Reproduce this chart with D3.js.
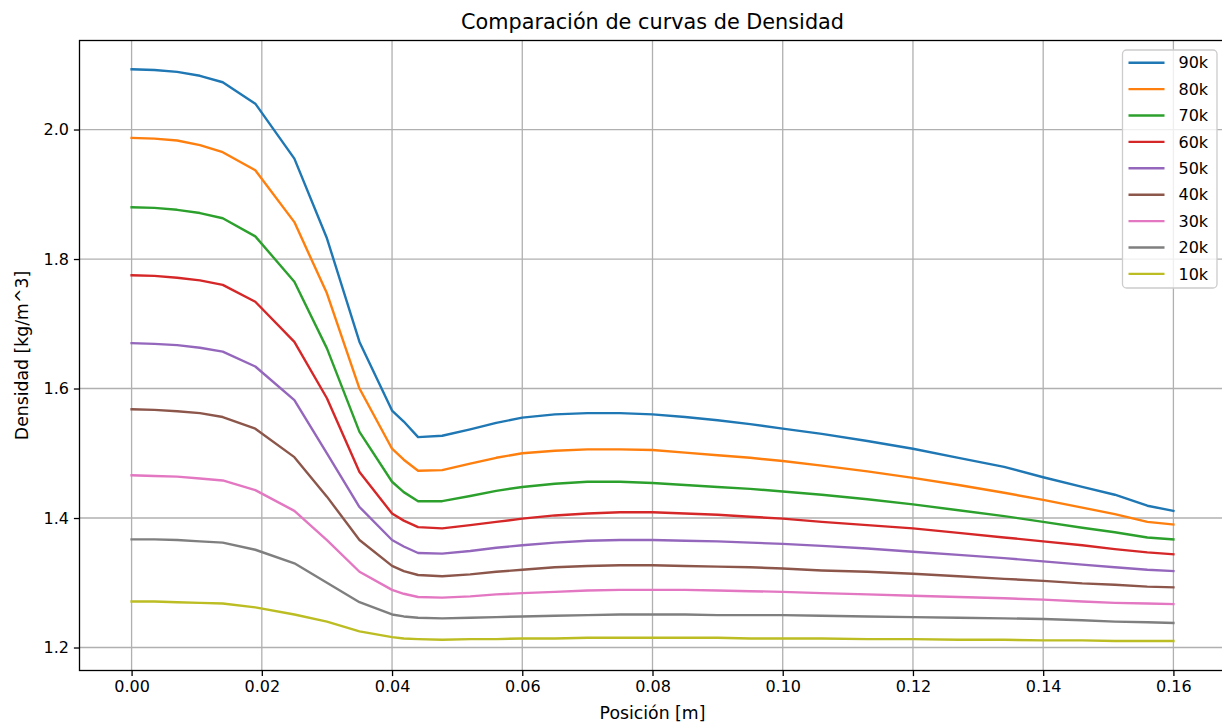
<!DOCTYPE html>
<html>
<head>
<meta charset="utf-8">
<script src="https://cdn.jsdelivr.net/npm/d3@7"></script>
<style>
  body { margin: 0; background: #fff; }
  text { font-family: "DejaVu Sans", sans-serif; fill: #000; }
</style>
</head>
<body>
<div id="svg-container"></div>
<script>
// data
var posicion = [0, 0.0035, 0.007, 0.0105, 0.014, 0.019, 0.025, 0.030, 0.035, 0.040, 0.0418, 0.044, 0.0477,
  0.052, 0.056, 0.060, 0.065, 0.070, 0.075, 0.080, 0.085, 0.090, 0.095, 0.100, 0.106, 0.113, 0.120,
  0.127, 0.134, 0.140, 0.146, 0.151, 0.156, 0.160];

var labels = ["90k", "80k", "70k", "60k", "50k", "40k", "30k", "20k", "10k"];

var d90 = [2.093, 2.092, 2.089, 2.083, 2.073, 2.040, 1.955, 1.832, 1.672, 1.566, 1.549, 1.525, 1.527,
  1.537, 1.547, 1.555, 1.560, 1.562, 1.562, 1.560, 1.556, 1.551, 1.545, 1.538, 1.530, 1.519, 1.507,
  1.493, 1.479, 1.463, 1.448, 1.436, 1.419, 1.411];
var d80 = [1.987, 1.986, 1.983, 1.976, 1.965, 1.937, 1.857, 1.747, 1.600, 1.507, 1.490, 1.473, 1.474,
  1.484, 1.493, 1.500, 1.504, 1.506, 1.506, 1.505, 1.501, 1.497, 1.493, 1.488, 1.481, 1.472, 1.462,
  1.451, 1.439, 1.428, 1.416, 1.406, 1.394, 1.390];
var d70 = [1.880, 1.879, 1.876, 1.871, 1.863, 1.835, 1.765, 1.662, 1.533, 1.456, 1.440, 1.426, 1.426,
  1.434, 1.442, 1.448, 1.453, 1.456, 1.456, 1.454, 1.451, 1.448, 1.445, 1.441, 1.436, 1.429, 1.421,
  1.412, 1.403, 1.394, 1.385, 1.378, 1.370, 1.367];
var d60 = [1.775, 1.774, 1.771, 1.767, 1.760, 1.734, 1.672, 1.585, 1.471, 1.407, 1.396, 1.386, 1.384,
  1.389, 1.394, 1.399, 1.404, 1.407, 1.409, 1.409, 1.407, 1.405, 1.402, 1.399, 1.394, 1.389, 1.384,
  1.377, 1.370, 1.364, 1.358, 1.352, 1.347, 1.344];
var d50 = [1.670, 1.669, 1.667, 1.663, 1.657, 1.634, 1.582, 1.500, 1.417, 1.366, 1.356, 1.346, 1.345,
  1.349, 1.354, 1.358, 1.362, 1.365, 1.366, 1.366, 1.365, 1.364, 1.362, 1.360, 1.357, 1.353, 1.348,
  1.343, 1.338, 1.333, 1.328, 1.324, 1.320, 1.318];
var d40 = [1.568, 1.567, 1.565, 1.562, 1.556, 1.538, 1.494, 1.433, 1.366, 1.326, 1.318, 1.312, 1.310,
  1.313, 1.317, 1.320, 1.324, 1.326, 1.327, 1.327, 1.326, 1.325, 1.324, 1.322, 1.319, 1.317, 1.314,
  1.310, 1.306, 1.303, 1.299, 1.297, 1.294, 1.293];
var d30 = [1.466, 1.465, 1.464, 1.461, 1.458, 1.443, 1.411, 1.366, 1.317, 1.289, 1.283, 1.278, 1.277,
  1.279, 1.282, 1.284, 1.286, 1.288, 1.289, 1.289, 1.289, 1.288, 1.287, 1.286, 1.284, 1.282, 1.280,
  1.278, 1.276, 1.274, 1.271, 1.269, 1.268, 1.267];
var d20 = [1.367, 1.367, 1.366, 1.364, 1.362, 1.351, 1.330, 1.300, 1.270, 1.251, 1.248, 1.246, 1.245,
  1.246, 1.247, 1.248, 1.249, 1.250, 1.251, 1.251, 1.251, 1.250, 1.250, 1.250, 1.249, 1.248, 1.247,
  1.246, 1.245, 1.244, 1.242, 1.240, 1.239, 1.238];
var d10 = [1.271, 1.271, 1.270, 1.269, 1.268, 1.262, 1.251, 1.240, 1.225, 1.216, 1.214, 1.213, 1.212,
  1.213, 1.213, 1.214, 1.214, 1.215, 1.215, 1.215, 1.215, 1.215, 1.214, 1.214, 1.214, 1.213, 1.213,
  1.212, 1.212, 1.211, 1.211, 1.210, 1.210, 1.210];

var xTicks = [0, 0.02, 0.04, 0.06, 0.08, 0.10, 0.12, 0.14, 0.16];
var yTicks = [1.2, 1.4, 1.6, 1.8, 2.0];

var series = [d90, d80, d70, d60, d50, d40, d30, d20, d10];
var colors = ["#1f77b4", "#ff7f0e", "#2ca02c", "#d62728", "#9467bd", "#8c564b", "#e377c2", "#7f7f7f", "#bcbd22"];

// layout
const W = 1222, H = 723;
const plotLeft = 79.5, plotRight = 1225.5, plotTop = 40.5, plotBottom = 670.5;

var svg = d3.select("#svg-container")
  .append("svg")
  .attr("width", W)
  .attr("height", H);

var x = d3.scaleLinear().domain([-0.008, 0.168]).range([plotLeft, plotRight]);
var y = d3.scaleLinear().domain([1.1645, 2.1375]).range([plotBottom, plotTop]);

// grid
svg.append("g").selectAll("line").data(xTicks).join("line")
  .attr("x1", d => x(d)).attr("x2", d => x(d))
  .attr("y1", plotTop).attr("y2", plotBottom)
  .attr("stroke", "#b0b0b0").attr("stroke-width", 1.3);
svg.append("g").selectAll("line").data(yTicks).join("line")
  .attr("x1", plotLeft).attr("x2", plotRight)
  .attr("y1", d => y(d)).attr("y2", d => y(d))
  .attr("stroke", "#b0b0b0").attr("stroke-width", 1.3);

// curves
var line = d3.line()
  .x((d, i) => x(posicion[i]))
  .y(d => y(d));

svg.append("g").selectAll("path").data(series).join("path")
  .attr("d", d => line(d))
  .attr("fill", "none")
  .attr("stroke", (d, i) => colors[i])
  .attr("stroke-width", 2.4)
  .attr("stroke-linejoin", "round")
  .attr("stroke-linecap", "square");

// axes
var xAxis = d3.axisBottom(x).tickValues(xTicks).tickFormat(d3.format(".2f")).tickSizeInner(5.6).tickSizeOuter(0).tickPadding(5);
var yAxis = d3.axisLeft(y).tickValues(yTicks).tickFormat(d3.format(".1f")).tickSizeInner(5.6).tickSizeOuter(0).tickPadding(5);

var gx = svg.append("g").attr("transform", "translate(0," + plotBottom + ")").call(xAxis);
var gy = svg.append("g").attr("transform", "translate(" + plotLeft + ",0)").call(yAxis);
[gx, gy].forEach(function(g) {
  g.select(".domain").remove();
  g.selectAll(".tick line").attr("stroke", "#000").attr("stroke-width", 1.3);
  g.selectAll(".tick text").attr("font-size", 16).attr("font-family", "DejaVu Sans").attr("fill", "#000");
});

// frame
svg.append("rect")
  .attr("x", plotLeft).attr("y", plotTop)
  .attr("width", plotRight - plotLeft).attr("height", plotBottom - plotTop)
  .attr("fill", "none").attr("stroke", "#000").attr("stroke-width", 1.3);

// titles
svg.append("text")
  .attr("x", (plotLeft + plotRight) / 2).attr("y", 29)
  .attr("text-anchor", "middle").attr("font-size", 20.8)
  .text("Comparación de curvas de Densidad");
svg.append("text")
  .attr("x", (plotLeft + plotRight) / 2).attr("y", 719)
  .attr("text-anchor", "middle").attr("font-size", 17.3)
  .text("Posición [m]");
svg.append("text")
  .attr("transform", "translate(28," + ((plotTop + plotBottom) / 2) + ") rotate(-90)")
  .attr("text-anchor", "middle").attr("font-size", 17.3)
  .text("Densidad [kg/m^3]");

// legend
var lg = svg.append("g").attr("transform", "translate(1122.5,50)");
lg.append("rect")
  .attr("width", 94.5).attr("height", 238)
  .attr("rx", 4)
  .attr("fill", "#fff").attr("fill-opacity", 0.8)
  .attr("stroke", "#cccccc").attr("stroke-width", 1.3);
var items = lg.selectAll("g.item").data(labels).join("g")
  .attr("class", "item")
  .attr("transform", (d, i) => "translate(0," + (12.7 + i * 26.4) + ")");
items.append("line")
  .attr("x1", 6).attr("x2", 42)
  .attr("stroke", (d, i) => colors[i]).attr("stroke-width", 2.4);
items.append("text")
  .attr("x", 56).attr("dy", "0.35em")
  .attr("font-size", 16)
  .text(d => d);
</script>
</body>
</html>
